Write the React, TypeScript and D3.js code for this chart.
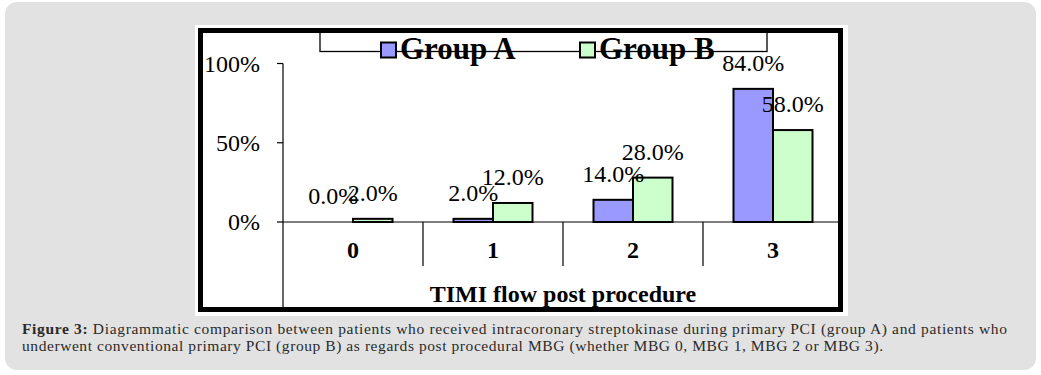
import React from "react";
import * as d3 from "d3";

const categories = ["0", "1", "2", "3"];
const seriesNames = ["Group A", "Group B"];
const groupA = [0, 2, 14, 84];
const groupB = [2, 12, 28, 58];
const yTicks = [0, 50, 100];
const xTitle = "TIMI flow post procedure";
const captionLine1Bold = "Figure 3:";
const captionLine1 =
  " Diagrammatic comparison between patients who received intracoronary streptokinase during primary PCI (group A) and patients who";
const captionLine2 =
  "underwent conventional primary PCI (group B) as regards post procedural MBG (whether MBG 0, MBG 1, MBG 2 or MBG 3).";

const colors = ["#9999ff", "#ccffcc"];
const FONT = '"Liberation Serif", "Times New Roman", Times, serif';

export default function App() {
  const W = 1041;
  const H = 375;
  const x = d3.scaleBand<string>().domain(categories).range([283, 843]).padding(0);
  const y = d3.scaleLinear().domain([0, 100]).range([222, 63.5]);
  const inner = d3.scaleBand<string>().domain(seriesNames).range([0, 79]).padding(0);
  const innerOffset = (x.bandwidth() - 79) / 2;
  const series = [groupA, groupB];
  const tx = { fontFamily: FONT } as React.CSSProperties;

  return (
    <svg
      width={W}
      height={H}
      style={{ position: "absolute", left: 0, top: 0, display: "block", fontFamily: FONT }}
    >
      <rect x={0} y={0} width={W} height={H} fill="#ffffff" />
      <rect x={5} y={2} width={1031} height={368} rx={12} ry={12} fill="#e2e2e2" />
      <rect x={195} y={25} width={653} height={291} fill="#ffffff" />

      {/* legend box */}
      <rect x={320} y={30} width={447} height={21.5} fill="none" stroke="#000" strokeWidth={1.3} />

      {/* y axis */}
      <line x1={283} x2={283} y1={y(100)} y2={309} stroke="#000" strokeWidth={1.2} />
      {yTicks.map((t) => (
        <g key={t}>
          <line x1={277} x2={283} y1={y(t)} y2={y(t)} stroke="#000" strokeWidth={1.2} />
          <text x={260} y={y(t) + 8} textAnchor="end" style={tx} fontSize={24} fill="#000">
            {t}%
          </text>
        </g>
      ))}

      {/* x axis */}
      <line x1={283} x2={843} y1={y(0)} y2={y(0)} stroke="#000" strokeWidth={1.2} />
      {categories.slice(1).map((c) => (
        <line key={c} x1={x(c)!} x2={x(c)!} y1={y(0)} y2={266} stroke="#000" strokeWidth={1.2} />
      ))}
      {categories.map((c) => (
        <text
          key={c}
          x={x(c)! + x.bandwidth() / 2}
          y={258}
          textAnchor="middle"
          style={tx}
          fontWeight="bold"
          fontSize={24}
          fill="#000"
        >
          {c}
        </text>
      ))}
      <text x={563} y={302} textAnchor="middle" style={tx} fontWeight="bold" fontSize={24} fill="#000">
        {xTitle}
      </text>

      {/* bars */}
      {series.map((vals, si) =>
        vals.map((v, ci) => {
          const bx = x(categories[ci])! + innerOffset + inner(seriesNames[si])!;
          const by = y(v);
          return (
            <rect
              key={`${si}-${ci}`}
              x={bx}
              y={by}
              width={inner.bandwidth()}
              height={y(0) - by}
              fill={colors[si]}
              stroke="#000"
              strokeWidth={2}
            />
          );
        })
      )}
      {/* labels */}
      {series.map((vals, si) =>
        vals.map((v, ci) => {
          const bx = x(categories[ci])! + innerOffset + inner(seriesNames[si])!;
          return (
            <text
              key={`l${si}-${ci}`}
              x={bx + inner.bandwidth() / 2}
              y={y(v) - 18}
              textAnchor="middle"
              style={tx}
              fontSize={24}
              fill="#000"
            >
              {v.toFixed(1)}%
            </text>
          );
        })
      )}

      {/* legend entries */}
      {seriesNames.map((s, i) => {
        const lx = [381, 580][i];
        return (
          <g key={s}>
            <rect x={lx} y={42.5} width={15} height={15} fill={colors[i]} stroke="#000" strokeWidth={2} />
            <text x={lx + 19} y={59} style={tx} fontWeight="bold" fontSize={31} fill="#000">
              {s}
            </text>
          </g>
        );
      })}

      {/* frame */}
      <rect x={200.5} y={30.5} width={640} height={279} fill="none" stroke="#000" strokeWidth={5} />

      {/* caption */}
      <text
        x={22}
        y={334}
        style={tx}
        fontSize={15.5}
        fill="#2a2a2a"
        textLength={985}
        lengthAdjust="spacing"
      >
        <tspan fontWeight="bold">{captionLine1Bold}</tspan>
        <tspan>{captionLine1}</tspan>
      </text>
      <text
        x={22}
        y={351}
        style={tx}
        fontSize={15.5}
        fill="#2a2a2a"
        textLength={861}
        lengthAdjust="spacing"
      >
        {captionLine2}
      </text>
    </svg>
  );
}
